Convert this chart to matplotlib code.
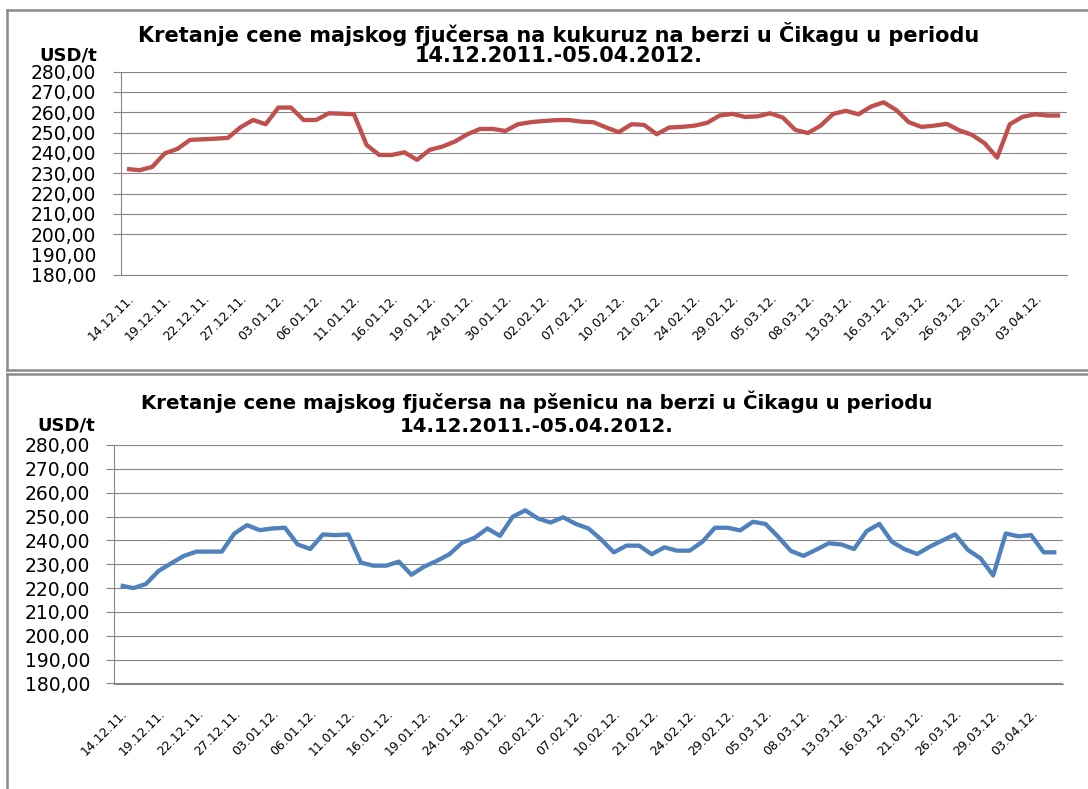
import numpy as np
import matplotlib.pyplot as plt
from matplotlib.lines import Line2D
from matplotlib.transforms import ScaledTranslation

# May corn futures, USD/t (CBOT), 14.12.2011 - 05.04.2012
corn = [232.1, 231.5, 233.1, 239.8, 242.0, 246.4, 246.7, 247.0, 247.4, 252.6,
        256.2, 254.1, 262.3, 262.3, 256.2, 256.2, 259.5, 259.3, 259.0, 243.9,
        239.0, 239.0, 240.3, 236.6, 241.5, 243.1, 245.6, 249.2, 251.8, 251.8,
        250.8, 254.1, 255.1, 255.7, 256.1, 256.2, 255.4, 255.1, 252.5, 250.2,
        254.1, 253.8, 249.2, 252.5, 252.8, 253.4, 254.8, 258.4, 259.2, 257.7,
        258.0, 259.5, 257.4, 251.3, 249.8, 253.4, 259.2, 260.7, 259.0, 262.8,
        264.9, 261.1, 255.1, 252.8, 253.4, 254.3, 251.1, 248.9, 244.8, 237.7,
        254.1, 257.7, 259.0, 258.4, 258.4]

# May wheat futures, USD/t
wheat = [221.1, 220.0, 221.7, 227.2, 230.4, 233.5, 235.3, 235.3, 235.3, 242.9,
         246.4, 244.3, 245.0, 245.3, 238.3, 236.4, 242.5, 242.2, 242.5, 230.7,
         229.4, 229.4, 231.1, 225.6, 229.0, 231.4, 234.2, 239.0, 241.1, 245.0,
         241.9, 249.9, 252.6, 249.2, 247.5, 249.7, 246.9, 245.0, 240.4, 235.0,
         237.8, 237.8, 234.2, 237.1, 235.7, 235.7, 239.4, 245.3, 245.3, 244.2,
         247.8, 246.9, 241.5, 235.6, 233.5, 236.1, 238.8, 238.3, 236.4, 243.9,
         246.9, 239.4, 236.3, 234.3, 237.4, 240.0, 242.5, 236.0, 232.5, 225.3,
         242.9, 241.7, 242.2, 235.0, 235.0]

# every third trading day is labelled
date_labels = ['14.12.11.', '19.12.11.', '22.12.11.', '27.12.11.', '03.01.12.',
               '06.01.12.', '11.01.12.', '16.01.12.', '19.01.12.', '24.01.12.',
               '30.01.12.', '02.02.12.', '07.02.12.', '10.02.12.', '21.02.12.',
               '24.02.12.', '29.02.12.', '05.03.12.', '08.03.12.', '13.03.12.',
               '16.03.12.', '21.03.12.', '26.03.12.', '29.03.12.', '03.04.12.']

y_ticks = [180, 190, 200, 210, 220, 230, 240, 250, 260, 270, 280]
y_labels = ['180,00', '190,00', '200,00', '210,00', '220,00', '230,00',
            '240,00', '250,00', '260,00', '270,00', '280,00']

title_corn = 'Kretanje cene majskog fjučersa na kukuruz na berzi u Čikagu u periodu'
title_wheat = 'Kretanje cene majskog fjučersa na pšenicu na berzi u Čikagu u periodu'
period = '14.12.2011.-05.04.2012.'
unit = 'USD/t'

W, H = 1088, 789
GRID = '#868686'
FRAME = '#8a8a8a'

fig = plt.figure(figsize=(W / 100, H / 100), dpi=100)


def fx(px):
    return px / W


def fy(py):
    return 1 - py / H


def panel(rect, values, color, xpad, hide_190=False):
    left, top, right, bottom = rect
    ax = fig.add_axes([fx(left), fy(bottom), fx(right - left), (bottom - top) / H])
    x = np.arange(len(values))
    ax.plot(x, values, color=color, lw=3.1, solid_joinstyle='round',
            solid_capstyle='butt', zorder=3)
    ax.set_xlim(-0.5, len(values) - 0.5)
    ax.set_ylim(180, 280)
    ax.set_yticks(y_ticks)
    ax.set_yticklabels(y_labels, fontsize=13.5)
    ax.set_xticks(np.arange(0, len(values), 3))
    ax.set_xticklabels(date_labels, fontsize=9, rotation=45, ha='right',
                       va='top', rotation_mode='anchor')
    shift = ScaledTranslation(-5 / 100, 0, fig.dpi_scale_trans)
    for lab in ax.get_xticklabels():
        lab.set_transform(lab.get_transform() + shift)
    ax.tick_params(axis='x', length=0, pad=xpad)
    ax.tick_params(axis='y', length=5.5, width=0.8, color=GRID, pad=12)
    ax.yaxis.grid(True, color=GRID, lw=0.8)
    ax.set_axisbelow(True)
    for s in ['top', 'right']:
        ax.spines[s].set_visible(False)
    for s in ['left', 'bottom']:
        ax.spines[s].set_color(GRID)
        ax.spines[s].set_linewidth(0.8)
    if hide_190:
        t = ax.yaxis.get_major_ticks()[1]
        t.gridline.set_visible(False)
        t.tick1line.set_visible(False)
    return ax


# corn panel
panel((120.7, 71.6, 1066.5, 274.9), corn, '#C0504D', xpad=12, hide_190=True)
fig.text(fx(559), fy(34), title_corn, ha='center', va='center',
         fontsize=15, fontweight='bold')
fig.text(fx(559), fy(56), period, ha='center', va='center',
         fontsize=15, fontweight='bold')
fig.text(fx(68), fy(55), unit, ha='center', va='center',
         fontsize=13, fontweight='bold')

# wheat panel
panel((114.3, 445, 1062.7, 683.5), wheat, '#4F81BD', xpad=17)
fig.text(fx(537), fy(402), title_wheat, ha='center', va='center',
         fontsize=14.2, fontweight='bold')
fig.text(fx(537), fy(427), period, ha='center', va='center',
         fontsize=14.2, fontweight='bold')
fig.text(fx(66), fy(426), unit, ha='center', va='center',
         fontsize=13, fontweight='bold')

# chart frames (right edges lie outside the picture)
frame_lines = [
    ([7, W], [10, 10]),      # top of corn chart
    ([7, W], [370, 370]),    # bottom of corn chart
    ([7, W], [374, 374]),    # top of wheat chart
    ([7, 7], [10, 370]),     # left of corn chart
    ([7, 7], [374, H]),      # left of wheat chart
]
for xs, ys in frame_lines:
    fig.add_artist(Line2D([fx(v) for v in xs], [fy(v) for v in ys],
                          transform=fig.transFigure, color=FRAME, lw=1.8))

fig.savefig('out.png', dpi=100)
